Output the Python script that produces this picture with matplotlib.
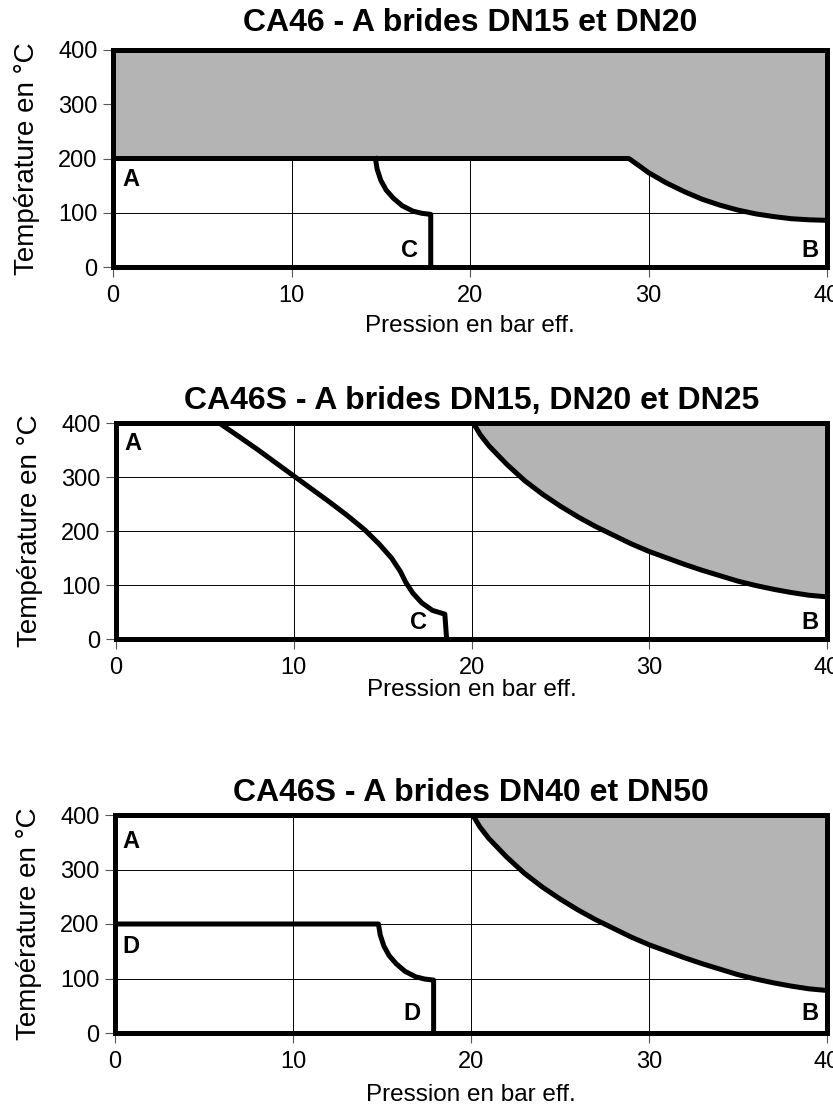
import numpy as np
import matplotlib.pyplot as plt

plt.rcParams['font.family'] = ['Liberation Sans', 'DejaVu Sans']

# ---------------- Datos ----------------
titulos = ["CA46 - A brides DN15 et DN20",
           "CA46S - A brides DN15, DN20 et DN25",
           "CA46S - A brides DN40 et DN50"]

# Graf 1: limite zona gris (A/B)
g1_p = [0, 28.9, 29.5, 30, 31, 32, 33, 34, 35, 36, 37, 38, 39, 40]
g1_t = [200, 200, 186, 174, 155, 139, 125, 114, 105, 98, 93, 89, 87, 86]
# Graf 1: curva C
c1_p = [14.7, 14.8, 15.0, 15.3, 15.7, 16.2, 16.8, 17.3, 17.8, 17.8]
c1_t = [200, 180, 160, 142, 127, 113, 103, 99, 97, 0]

# Graf 2/3: limite zona gris (B)
g2_p = [20.1, 20.5, 21, 22, 23, 24, 25, 26, 27, 28, 29, 30, 31, 32, 33, 34, 35, 36, 37, 38, 39, 40]
g2_t = [400, 378, 357, 323, 293, 268, 246, 226, 208, 192, 176, 162, 150, 138, 127, 117, 107, 99, 92, 86, 81, 78]
# Graf 2: curva A/C
c2_p = [5.8, 7, 8, 9, 10, 11, 12, 13, 14, 14.8, 15.5, 16.0, 16.3, 16.7, 17.2, 17.8, 18.5, 18.6]
c2_t = [400, 373, 350, 326, 302, 278, 254, 229, 202, 176, 150, 125, 105, 85, 67, 53, 46, 0]
# Graf 3: curva D
c3_p = [0, 14.8, 14.9, 15.1, 15.4, 15.8, 16.3, 16.9, 17.4, 17.9, 17.9]
c3_t = [200, 200, 180, 160, 142, 127, 113, 103, 99, 97, 0]

xticks = [0, 10, 20, 30, 40]
yticks = [0, 100, 200, 300, 400]

gris = '#b4b4b4'
lw = 3.6

fig = plt.figure(figsize=(8.33, 11.06), dpi=100)

# posiciones de ejes en pixeles (izq, abajo, der, arriba)
pos = [(113, 267, 827, 50), (116, 639, 827, 423), (115, 1033, 827, 815)]
W, H = 833, 1106


def preparar_eje(ax, titulo, titulo_pad, xlabel_pad):
    ax.set_xlim(0, 40)
    ax.set_ylim(0, 400)
    ax.set_xticks(xticks)
    ax.set_yticks(yticks)
    ax.grid(True, color='black', linewidth=0.7)
    ax.set_axisbelow(True)
    for s in ax.spines.values():
        s.set_linewidth(lw)
    ax.tick_params(length=7, width=0.8, color='#555555', labelsize=17)
    ax.tick_params(axis='x', pad=6)
    ax.tick_params(axis='y', pad=4)
    ax.set_title(titulo, fontsize=23, fontweight='bold', pad=titulo_pad)
    ax.set_ylabel("Température en °C", fontsize=20, labelpad=13)
    ax.set_xlabel("Pression en bar eff.", fontsize=17.5, labelpad=xlabel_pad)


axes = []
for (l, b, r, t) in pos:
    ax = fig.add_axes([l / W, 1 - b / H, (r - l) / W, (b - t) / H])
    axes.append(ax)

# ---- Grafico 1
ax = axes[0]
preparar_eje(ax, titulos[0], 14, 6)
ax.fill_between(g1_p, g1_t, 400, color=gris, zorder=1)
ax.plot(g1_p, g1_t, color='black', lw=lw, solid_capstyle='butt', zorder=3)
ax.plot(c1_p, c1_t, color='black', lw=lw, zorder=3)
ax.text(0.5, 162, "A", fontsize=17, fontweight='bold', ha='left', va='center')
ax.text(16.6, 30, "C", fontsize=17, fontweight='bold', ha='center', va='center')
ax.text(39.5, 30, "B", fontsize=17, fontweight='bold', ha='right', va='center')

# ---- Grafico 2
ax = axes[1]
preparar_eje(ax, titulos[1], 10, 0)
ax.fill_between(g2_p, g2_t, 400, color=gris, zorder=1)
ax.plot(g2_p, g2_t, color='black', lw=lw, zorder=3)
ax.plot(c2_p, c2_t, color='black', lw=lw, zorder=3)
ax.text(0.5, 362, "A", fontsize=17, fontweight='bold', ha='left', va='center')
ax.text(17.0, 30, "C", fontsize=17, fontweight='bold', ha='center', va='center')
ax.text(39.5, 30, "B", fontsize=17, fontweight='bold', ha='right', va='center')

# ---- Grafico 3
ax = axes[2]
preparar_eje(ax, titulos[2], 10, 8)
ax.fill_between(g2_p, g2_t, 400, color=gris, zorder=1)
ax.plot(g2_p, g2_t, color='black', lw=lw, zorder=3)
ax.plot(c3_p, c3_t, color='black', lw=lw, zorder=3)
ax.text(0.4, 352, "A", fontsize=17, fontweight='bold', ha='left', va='center')
ax.text(0.4, 158, "D", fontsize=17, fontweight='bold', ha='left', va='center')
ax.text(16.7, 35, "D", fontsize=17, fontweight='bold', ha='center', va='center')
ax.text(39.5, 35, "B", fontsize=17, fontweight='bold', ha='right', va='center')

fig.savefig("out.png", dpi=100)
